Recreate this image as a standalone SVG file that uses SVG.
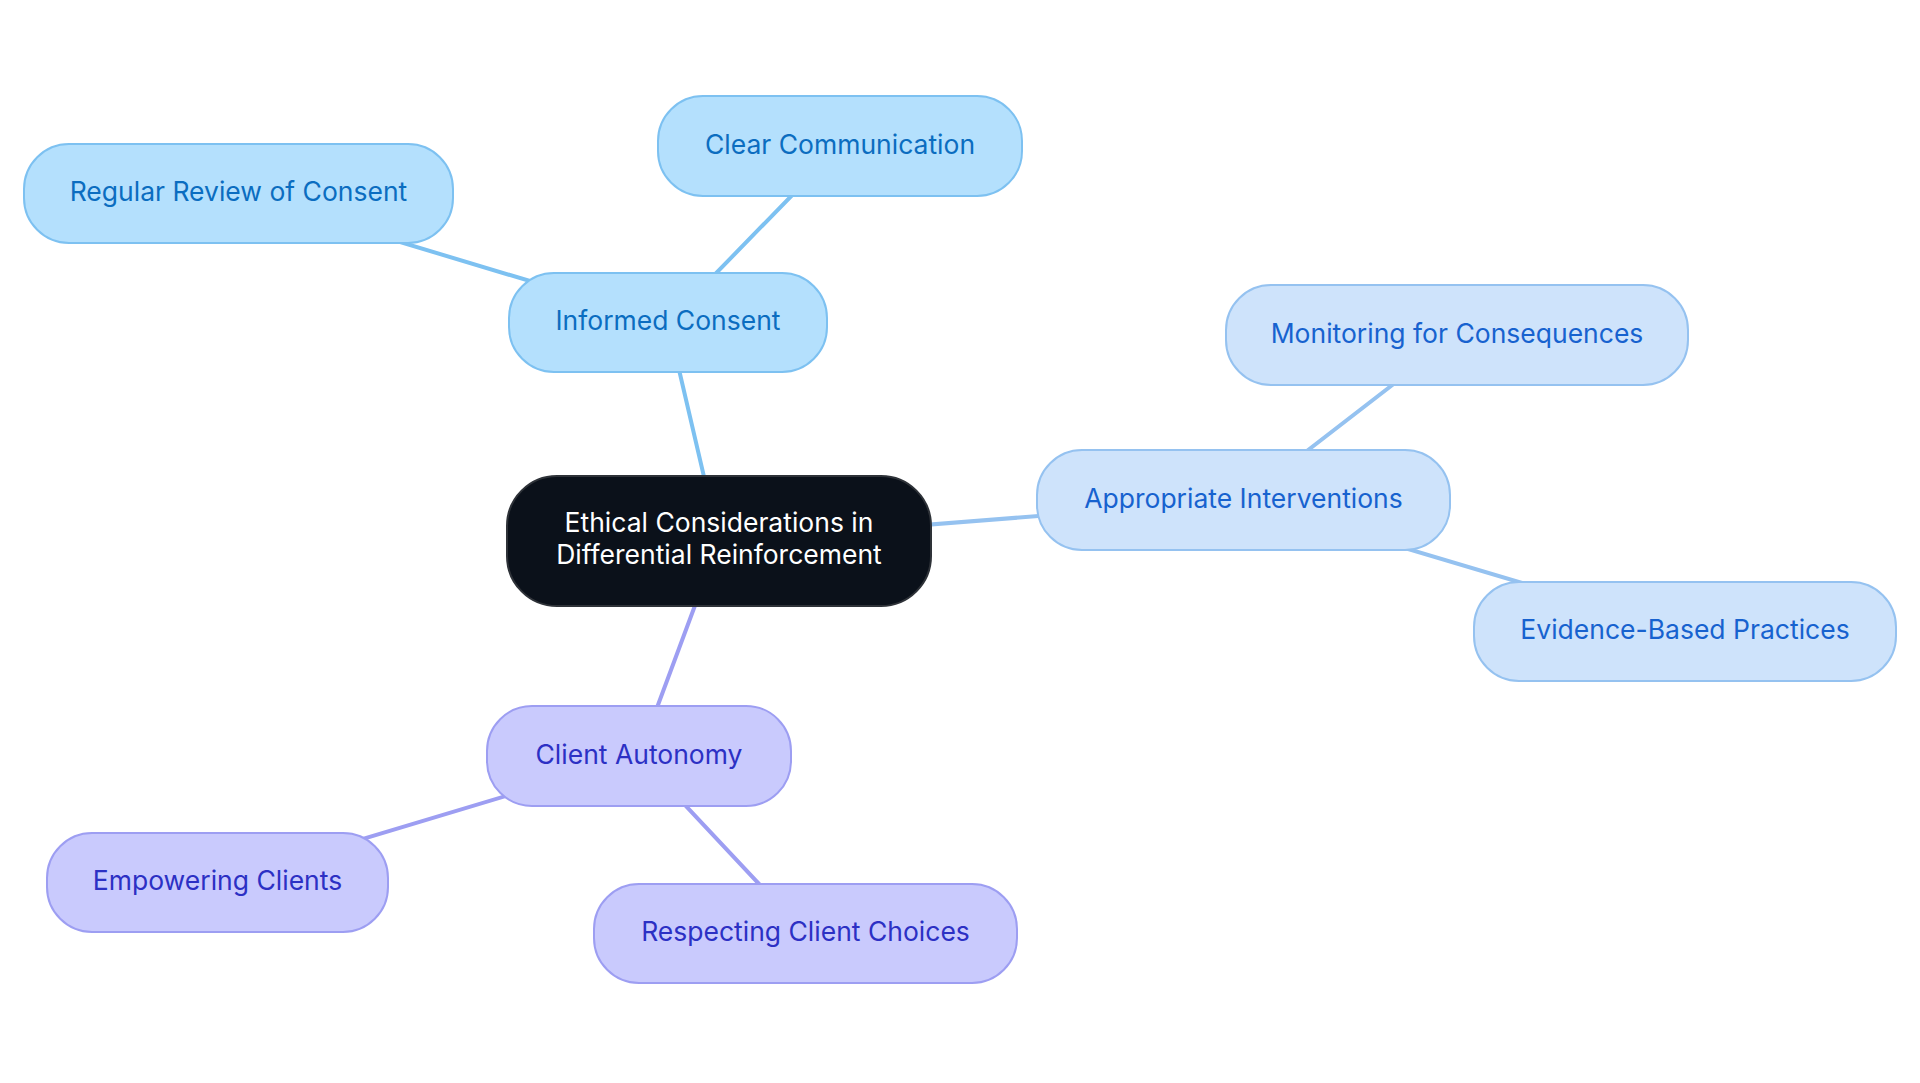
<svg xmlns="http://www.w3.org/2000/svg" width="1920" height="1083" viewBox="0 0 1920 1083">
<style>
text{font-family:Inter,"Noto Sans","Liberation Sans",sans-serif;font-size:26.5px;text-anchor:middle;letter-spacing:0px}
.c1 line{stroke:#7dc1f1}
.c2 line{stroke:#95c2f0}
.c3 line{stroke:#9d9ef2}
line{stroke-width:4;stroke-linecap:round}
.n1 rect{fill:#b4e0fd;stroke:#7dc1f1;stroke-width:2}
.n1 text{fill:#0b6dc0}
.n2 rect{fill:#cee3fb;stroke:#95c2f0;stroke-width:2}
.n2 text{fill:#1762cf}
.n3 rect{fill:#c9cafd;stroke:#9d9ef2;stroke-width:2}
.n3 text{fill:#2c30c4}
.root rect{fill:#0b111a;stroke:#2e3238;stroke-width:2}
.root text{fill:#ffffff}
</style>
<rect width="1920" height="1083" fill="#ffffff"/>
<g id="connectors">
<g class="c1">
<line x1="719" y1="541" x2="668" y2="322.5"/>
<line x1="668" y1="322.5" x2="840" y2="146"/>
<line x1="668" y1="322.5" x2="238.5" y2="193.5"/>
</g>
<g class="c2">
<line x1="719" y1="541" x2="1243.5" y2="500"/>
<line x1="1243.5" y1="500" x2="1457" y2="335"/>
<line x1="1243.5" y1="500" x2="1685" y2="631.5"/>
</g>
<g class="c3">
<line x1="719" y1="541" x2="639" y2="756"/>
<line x1="639" y1="756" x2="217.5" y2="882.5"/>
<line x1="639" y1="756" x2="805.5" y2="933.5"/>
</g>
</g>
<g id="root" class="root">
<rect x="507" y="476" width="424" height="130" rx="50"/>
<text x="719" y="532">Ethical Considerations in</text>
<text x="719" y="564">Differential Reinforcement</text>
</g>
<g id="informed-consent" class="n1">
<rect x="509" y="273" width="318" height="99" rx="45"/>
<text x="668" y="330">Informed Consent</text>
</g>
<g id="clear-communication" class="n1">
<rect x="658" y="96" width="364" height="100" rx="45"/>
<text x="840" y="154">Clear Communication</text>
</g>
<g id="regular-review" class="n1">
<rect x="24" y="144" width="429" height="99" rx="45"/>
<text x="238.5" y="201">Regular Review of Consent</text>
</g>
<g id="appropriate-interventions" class="n2">
<rect x="1037" y="450" width="413" height="100" rx="45"/>
<text x="1243.5" y="508">Appropriate Interventions</text>
</g>
<g id="monitoring" class="n2">
<rect x="1226" y="285" width="462" height="100" rx="45"/>
<text x="1457" y="343">Monitoring for Consequences</text>
</g>
<g id="evidence-based" class="n2">
<rect x="1474" y="582" width="422" height="99" rx="45"/>
<text x="1685" y="639">Evidence-Based Practices</text>
</g>
<g id="client-autonomy" class="n3">
<rect x="487" y="706" width="304" height="100" rx="45"/>
<text x="639" y="764">Client Autonomy</text>
</g>
<g id="empowering-clients" class="n3">
<rect x="47" y="833" width="341" height="99" rx="45"/>
<text x="217.5" y="890">Empowering Clients</text>
</g>
<g id="respecting-choices" class="n3">
<rect x="594" y="884" width="423" height="99" rx="45"/>
<text x="805.5" y="941">Respecting Client Choices</text>
</g>
</svg>
